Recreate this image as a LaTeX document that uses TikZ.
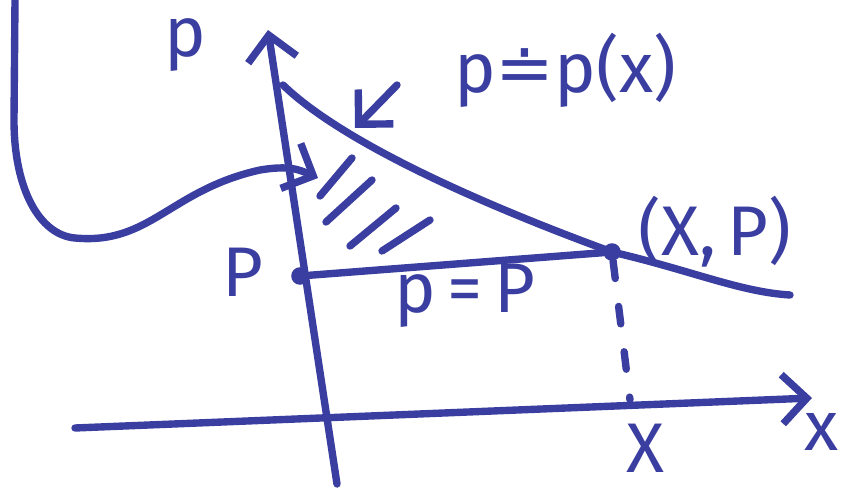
\documentclass[tikz,border=0pt]{standalone}
\usepackage{fontspec}
\setmainfont{Fira Sans}
\newfontfamily\dvfont{DejaVu Sans}
\usetikzlibrary{arrows.meta}
\definecolor{ink}{RGB}{58,62,160}
\begin{document}
\begin{tikzpicture}[x=0.02cm,y=-0.02cm,
  pen/.style={draw=ink,line width=4.2pt,line cap=round,line join=round},
  tip/.style={-{Straight Barb[length=14pt,width=28pt,line width=4.2pt]}},
  lbl/.style={text=ink,font=\fontsize{40}{40}\selectfont,inner sep=0pt},
  dot/.style={circle,fill=ink,minimum size=10pt,inner sep=0pt}]
\useasboundingbox (0,0) rectangle (845,493);
% points
\coordinate (ybot) at (337,484);
\coordinate (ytop) at (268,30);
\coordinate (xl) at (75,428);
\coordinate (xr) at (812,398);
\node[dot] (P0) at (300,276) {};
\node[dot] (XP) at (612,252) {};
\coordinate (Xfoot) at (630,400);
% axes
\draw[pen,tip] (ybot) -- (ytop);
\draw[pen,tip] (xl) -- (xr);
% curve p = p(x)
\coordinate (cs) at (283,85);
\coordinate (ce) at (790,295);
\draw[pen] (cs) .. controls (340,140) and (470,200) .. (XP.center)
  .. controls (690,270) and (740,292) .. (ce);
% horizontal line p = P
\draw[pen] (P0) -- (XP);
% dashed drop
\draw[pen,dash pattern=on 10pt off 16pt] (XP) -- (Xfoot);
% hatching
\draw[pen] (320,196) -- (352,158);
\draw[pen] (326,222) -- (372,180);
\draw[pen] (350,246) -- (396,208);
\draw[pen] (382,251) -- (430,220);
% arrow to curve
\coordinate (a1) at (397,85);
\coordinate (a2) at (355,128);
\draw[pen,tip] (a1) -- (a2);
% big left arrow
\coordinate (b0) at (15,0);
\coordinate (b1) at (318,178);
\draw[pen,tip] (b0) -- (14,120) .. controls (14,190) and (40,235) .. (75,238)
  .. controls (150,245) and (170,190) .. (260,170) .. controls (290,165) and (300,170) .. (b1);
% labels
\node[lbl] (lp) at (185,45) {p};
\node[lbl] (lP) at (243,272) {P};
\node[lbl] (lpP) at (465,296) {p\,=\,P};
\node[lbl] (lXP) at (715,232) {(X,\,P)};
\node[lbl] (lX) at (645,448) {X};
\node[lbl] (lx) at (822,432) {x};
\node[lbl] (lcurve) at (565,70) {p{\dvfont ≐}p(x)};
\end{tikzpicture}
\end{document}
